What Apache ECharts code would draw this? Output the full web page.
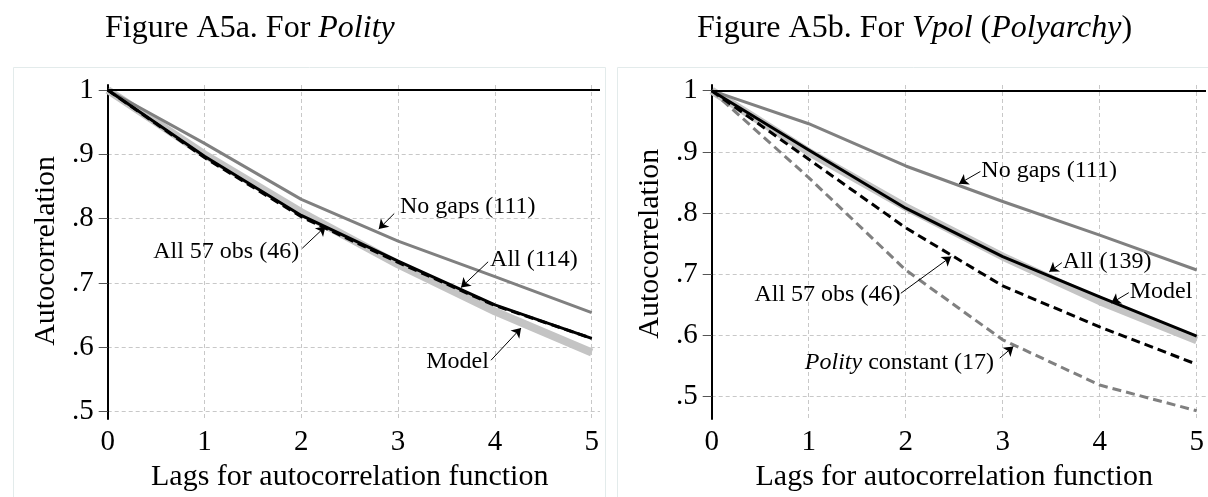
<!DOCTYPE html>
<html>
<head>
<meta charset="utf-8">
<style type="text/css">
body{margin:0;padding:0;background:#fff;}
#chart{width:1208px;height:497px;}
</style>
</head>
<body>
<div id="chart"></div>
<script src="https://cdn.jsdelivr.net/npm/echarts@6/dist/echarts.min.js"></script>
<script type="text/javascript">
// lags on the x axis
var lags = [0, 1, 2, 3, 4, 5];

// Figure A5a, Polity
var polityModel  = [1, 0.900, 0.810, 0.729, 0.656, 0.592];
var polityNoGaps = [1, 0.917, 0.830, 0.765, 0.710, 0.654];
var polityAll    = [1, 0.897, 0.805, 0.734, 0.666, 0.614];
var polityAll57  = [1, 0.895, 0.803, 0.732, 0.665, 0.614];

// Figure A5b, Vpol
var vpolModel  = [1, 0.900, 0.810, 0.729, 0.656, 0.592];
var vpolNoGaps = [1, 0.946, 0.877, 0.819, 0.764, 0.707];
var vpolAll    = [1, 0.903, 0.808, 0.729, 0.663, 0.599];
var vpolAll57  = [1, 0.888, 0.776, 0.681, 0.614, 0.553];
var vpolConst  = [1, 0.858, 0.707, 0.593, 0.519, 0.477];

var yTicks = [0.5, 0.6, 0.7, 0.8, 0.9, 1];

// labels with arrows, in data units: text position, arrow tail, arrow head
var polityNotes = [
    {text: 'No gaps (111)',   at: [3.02, 0.819], tail: [2.96, 0.808], head: [2.80, 0.784]},
    {text: 'All 57 obs (46)', at: [0.47, 0.749], tail: [2.01, 0.754], head: [2.25, 0.788]},
    {text: 'All (114)',       at: [3.95, 0.736], tail: [3.93, 0.733], head: [3.65, 0.693]},
    {text: 'Model',           at: [3.29, 0.578], tail: [3.96, 0.580], head: [4.27, 0.630]}
];
var vpolNotes = [
    {text: 'No gaps (111)',           at: [2.78, 0.870], tail: [2.77, 0.868], head: [2.55, 0.848]},
    {text: 'All (139)',               at: [3.62, 0.721], tail: [3.61, 0.719], head: [3.48, 0.704]},
    {text: 'Model',                   at: [4.31, 0.672], tail: [4.30, 0.670], head: [4.12, 0.653]},
    {text: 'All 57 obs (46)',         at: [0.44, 0.666], tail: [1.95, 0.669], head: [2.47, 0.729]},
    {text: '{i|Polity} constant (17)', at: [0.96, 0.556], tail: [2.97, 0.563], head: [3.11, 0.582]}
];

var FONT = 'Liberation Serif';
var GRID_GRAY = '#c8c8c8';

function pairs(vals){
    return lags.map(function(l, i){ return [l, vals[i]]; });
}

function yLabel(v){
    if (Math.abs(v - 1) < 1e-9) return '1';
    return v.toFixed(1).replace(/^0/, '');
}

function lineSeries(gi, vals, color, width, dashed){
    return {
        type: 'line',
        xAxisIndex: gi, yAxisIndex: gi,
        data: pairs(vals),
        symbol: 'none',
        clip: false,
        silent: true,
        lineStyle: {color: color, width: width, type: dashed ? [9, 5] : 'solid', cap: 'butt', join: 'round'},
        z: 3
    };
}

function notesSeries(gi, notes){
    return {
        type: 'scatter',
        xAxisIndex: gi, yAxisIndex: gi,
        symbolSize: 0,
        clip: false,
        silent: true,
        itemStyle: {color: '#000', opacity: 1},
        data: notes.map(function(n){ return {value: n.at, name: n.text}; }),
        label: {
            show: true,
            position: [0, 0],
            align: 'left',
            verticalAlign: 'middle',
            formatter: '{b}',
            fontFamily: FONT, fontSize: 24, color: '#000', opacity: 1,
            rich: {i: {fontFamily: FONT, fontSize: 24, fontStyle: 'italic', color: '#000'}}
        },
        markLine: {
            silent: true,
            symbol: ['none', 'arrow'],
            symbolSize: 9,
            label: {show: false},
            lineStyle: {color: '#000', width: 1, type: 'solid', opacity: 1},
            data: notes.map(function(n){ return [{coord: n.tail}, {coord: n.head}]; })
        },
        z: 5
    };
}

// one-line horizontal at autocorrelation 1
function oneLine(){
    return {
        silent: true,
        symbol: 'none',
        label: {show: false},
        lineStyle: {color: '#000', width: 2, type: 'solid'},
        data: [{yAxis: 1}]
    };
}

// frame grid: axis line at 0, vertical grid lines, x labels
function frameX(gi){
    return {
        type: 'value', gridIndex: gi, min: 0, max: 5, interval: 1,
        axisLine: {show: false}, axisTick: {show: false},
        axisLabel: {fontFamily: FONT, fontSize: 29, color: '#000', margin: 9},
        splitLine: {show: true, lineStyle: {color: GRID_GRAY, type: [4, 3], width: 1}},
        name: 'Lags for autocorrelation function',
        nameLocation: 'middle', nameGap: 35,
        nameTextStyle: {fontFamily: FONT, fontSize: 30, color: '#000'}
    };
}
function frameY(gi){
    return {
        type: 'value', gridIndex: gi, min: 0, max: 1,
        axisLine: {show: true, lineStyle: {color: '#000', width: 2}},
        axisTick: {show: false}, axisLabel: {show: false}, splitLine: {show: false}
    };
}
// data grid: horizontal grid lines and y labels
function dataX(gi, max){
    return {type: 'value', gridIndex: gi, min: 0, max: max, show: false};
}
function dataY(gi){
    return {
        type: 'value', gridIndex: gi, min: yTicks[0], max: yTicks[yTicks.length - 1], interval: 0.1,
        axisLine: {show: false},
        axisTick: {show: true, length: 9, lineStyle: {color: '#555', width: 1}},
        axisLabel: {fontFamily: FONT, fontSize: 29, color: '#000', margin: 14, formatter: yLabel},
        splitLine: {show: true, lineStyle: {color: GRID_GRAY, type: [4, 3], width: 1}},
        name: 'Autocorrelation', nameLocation: 'middle', nameGap: 47, nameRotate: 90,
        nameTextStyle: {fontFamily: FONT, fontSize: 30, color: '#000'}
    };
}

var chart = echarts.init(document.getElementById('chart'), null, {renderer: 'canvas'});

var titleRich = {
    n: {fontFamily: FONT, fontSize: 32, color: '#000', fontWeight: 'normal'},
    i: {fontFamily: FONT, fontSize: 32, color: '#000', fontWeight: 'normal', fontStyle: 'italic'}
};

var leftNoGaps = lineSeries(1, polityNoGaps, '#808080', 3, false);
leftNoGaps.markLine = oneLine();
var rightNoGaps = lineSeries(3, vpolNoGaps, '#808080', 3, false);
rightNoGaps.markLine = oneLine();

var option = {
    backgroundColor: '#fff',
    animation: false,
    title: [
        {left: 105, top: 13, padding: 0, text: '{n|Figure A5a. For }{i|Polity}',
            textStyle: {fontWeight: 'normal', rich: titleRich}},
        {left: 697, top: 13, padding: 0, text: '{n|Figure A5b. For }{i|Vpol}{n| (}{i|Polyarchy}{n|)}',
            textStyle: {fontWeight: 'normal', rich: titleRich}}
    ],
    graphic: [
        {type: 'rect', left: 11, top: 65, shape: {width: 592, height: 440}, style: {fill: 'none', stroke: '#e3ebeb', lineWidth: 1}, z: -10},
        {type: 'rect', left: 615, top: 65, shape: {width: 600, height: 440}, style: {fill: 'none', stroke: '#e3ebeb', lineWidth: 1}, z: -10}
    ],
    grid: [
        {left: 107.7, top: 85, width: 484, height: 336},
        {left: 107.7, top: 90, width: 492.3, height: 321.7},
        {left: 711.7, top: 85, width: 485, height: 336},
        {left: 711.7, top: 90.7, width: 494.3, height: 306}
    ],
    xAxis: [frameX(0), dataX(1, 492.3 / 96.8), frameX(2), dataX(3, 494.3 / 97)],
    yAxis: [frameY(0), dataY(1), frameY(2), dataY(3)],
    series: [
        lineSeries(1, polityModel, '#c4c4c4', 8, false),
        leftNoGaps,
        lineSeries(1, polityAll, '#000', 3, false),
        lineSeries(1, polityAll57, '#000', 3, true),
        notesSeries(1, polityNotes),

        lineSeries(3, vpolModel, '#c4c4c4', 8, false),
        rightNoGaps,
        lineSeries(3, vpolConst, '#808080', 3, true),
        lineSeries(3, vpolAll, '#000', 3, false),
        lineSeries(3, vpolAll57, '#000', 3, true),
        notesSeries(3, vpolNotes)
    ]
};
chart.setOption(option);
</script>
</body>
</html>
